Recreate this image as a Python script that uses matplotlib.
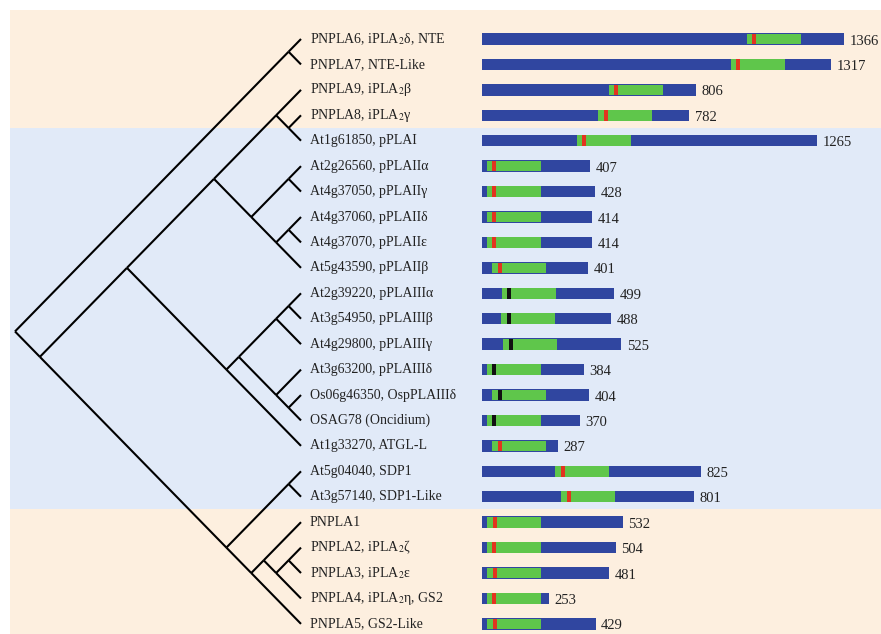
import matplotlib
matplotlib.use('Agg')
import matplotlib.pyplot as plt

# fonts: Times-like serif, stix for the subscripts
plt.rcParams['font.family'] = ['Liberation Serif', 'DejaVu Serif']
plt.rcParams['mathtext.fontset'] = 'stix'

# ---- data (top to bottom) ----
names = ['PNPLA6, iPLA$_2$δ, NTE', 'PNPLA7, NTE-Like', 'PNPLA9, iPLA$_2$β', 'PNPLA8, iPLA$_2$γ',
         'At1g61850, pPLAI', 'At2g26560, pPLAIIα', 'At4g37050, pPLAIIγ', 'At4g37060, pPLAIIδ',
         'At4g37070, pPLAIIε', 'At5g43590, pPLAIIβ', 'At2g39220, pPLAIIIα', 'At3g54950, pPLAIIIβ',
         'At4g29800, pPLAIIIγ', 'At3g63200, pPLAIIIδ', 'Os06g46350, OspPLAIIIδ', 'OSAG78 (Oncidium)',
         'At1g33270, ATGL-L', 'At5g04040, SDP1', 'At3g57140, SDP1-Like', 'PNPLA1',
         'PNPLA2, iPLA$_2$ζ', 'PNPLA3, iPLA$_2$ε', 'PNPLA4, iPLA$_2$η, GS2', 'PNPLA5, GS2-Like']
lengths = [1366, 1317, 806, 782, 1265, 407, 428, 414, 414, 401, 499, 488,
           525, 384, 404, 370, 287, 825, 801, 532, 504, 481, 253, 429]
# patatin domain start and active-site motif start (aa)
pat_start = [1000, 940, 479, 438, 358, 19, 19, 19, 19, 38, 75, 72,
             79, 19, 38, 19, 38, 275, 298, 19, 19, 19, 19, 19]
motif_start = [1019, 958, 498, 460, 377, 38, 38, 38, 38, 60, 94, 94,
               102, 38, 60, 38, 60, 298, 321, 42, 38, 42, 38, 42]
motif_kind = ['red'] * 10 + ['black'] * 6 + ['red'] * 8
pat_len = 204
motif_len = 15

# tree topology as nested leaf indices
tree = ((0, 1),
        ((((2, (3, 4)), ((5, 6), ((7, 8), 9))),
          ((((10, 11), 12), (13, (14, 15))), 16)),
         ((17, 18), ((19, ((20, 21), 22)), 23))))

# group bands (row ranges)
bands = [(None, 3.5, '#fdefdf'), (3.5, 18.5, '#e1eaf8'), (18.5, None, '#fdefdf')]

# ---- layout ----
W, H = 881, 634
row_px = 25.43      # pixels per row
top_px = 39         # centre of first row
tip_px, root_px = 301, 15
bar_px, aa_px = 482, 0.265

blue = '#3046a0'
green = '#5fc64b'
motif_col = {'red': '#e2341f', 'black': '#111111'}

n = len(names)
rows = list(range(n))
ylim = (n - 1 + (H - top_px - (n - 1) * row_px) / row_px, -top_px / row_px)

fig = plt.figure(figsize=(W / 100, H / 100), dpi=100)
ax_bar = fig.add_axes([0, 0, 1, 1])
ax_tree = fig.add_axes([0, 0, 1, 1], sharey=ax_bar)
ax_tree.patch.set_alpha(0)

# background bands
band_top = -(top_px - 10) / row_px
for y0, y1, c in bands:
    y0 = band_top if y0 is None else y0
    y1 = ylim[0] if y1 is None else y1
    ax_bar.axhspan(y0, y1, xmin=10 / W, xmax=1, color=c, lw=0, zorder=0)

# domain bars
ax_bar.barh(rows, lengths, left=0, height=0.45, color=blue, zorder=2)
ax_bar.barh(rows, pat_len, left=pat_start, height=0.42, color=green, zorder=3)
ax_bar.barh(rows, motif_len, left=motif_start, height=0.42,
            color=[motif_col[k] for k in motif_kind], zorder=4)
for i, L in enumerate(lengths):
    ax_bar.annotate(str(L), (L, i), xytext=(4, -1.5), textcoords='offset points',
                    ha='left', va='center', fontsize=10.5, color='#222222')
ax_bar.set_xlim(-bar_px / aa_px, (W - bar_px) / aa_px)

# slanted cladogram
segs = []


def place(node):
    if isinstance(node, int):
        return 0.0, float(node), node, node
    kids = [place(c) for c in node]
    lo = min(k[2] for k in kids)
    hi = max(k[3] for k in kids)
    x, y = -(hi - lo) / 2, (hi + lo) / 2
    for k in kids:
        segs.append(((x, k[0]), (y, k[1])))
    return x, y, lo, hi


root_x = place(tree)[0]
for xs, ys in segs:
    ax_tree.plot(xs, ys, color='black', lw=1.5, solid_capstyle='butt', zorder=5)

for i, name in enumerate(names):
    ax_tree.annotate(name, (0, i), xytext=(6.5, 0), textcoords='offset points',
                     ha='left', va='center', fontsize=10, color='#222222')

ppu = (tip_px - root_px) / -root_x
ax_tree.set_xlim(root_x - root_px / ppu, (W - tip_px) / ppu)
ax_bar.set_ylim(*ylim)

ax_bar.axis('off')
ax_tree.axis('off')

fig.savefig('out.png', dpi=100)
